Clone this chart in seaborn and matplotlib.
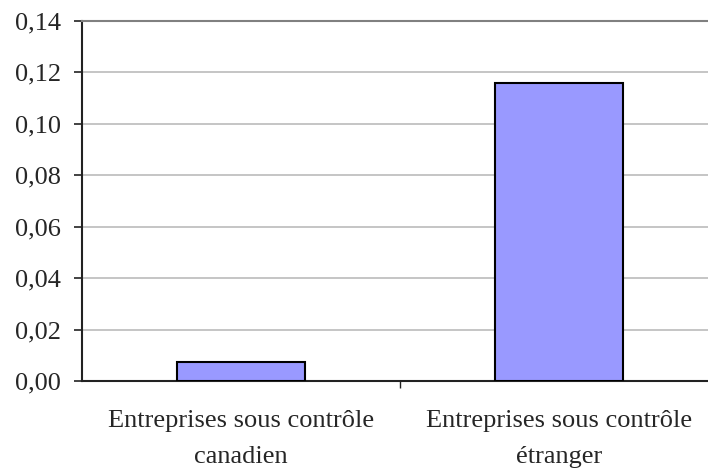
import seaborn as sns
import matplotlib.pyplot as plt
import pandas as pd
from matplotlib.ticker import FuncFormatter, FixedLocator

# Data
categories = ['Entreprises sous contrôle\ncanadien', 'Entreprises sous contrôle\nétranger']
values = [0.0074, 0.116]
y_ticks = [0.00, 0.02, 0.04, 0.06, 0.08, 0.10, 0.12, 0.14]

df = pd.DataFrame({'Groupe': categories, 'Valeur': values})

sns.set_style('white')
plt.rcParams['font.family'] = ['Liberation Serif', 'DejaVu Serif']

fig = plt.figure(figsize=(7.08, 4.72), dpi=100)
# axes run slightly past the right edge, as in the reference
ax = fig.add_axes([82 / 708, 1 - 381 / 472, 636 / 708, 360 / 472])

sns.barplot(x='Groupe', y='Valeur', data=df, color='#9999FF', saturation=1,
            width=0.4, edgecolor='black', linewidth=1.5, ax=ax, zorder=3)

ax.set_ylim(0, 0.14)
ax.set_xlim(-0.5, 1.5)
ax.set_yticks(y_ticks)
ax.yaxis.set_major_formatter(FuncFormatter(lambda v, p: f'{v:.2f}'.replace('.', ',')))

# light grey gridlines
for t in y_ticks[1:-1]:
    ax.axhline(t, color='#c0c0c0', linewidth=1.3, zorder=1)

ax.spines['top'].set_color('#808080')
ax.spines['top'].set_linewidth(1.5)
ax.spines['left'].set_color('#222222')
ax.spines['left'].set_linewidth(1.5)
ax.spines['bottom'].set_color('#222222')
ax.spines['bottom'].set_linewidth(1.5)
ax.spines['right'].set_visible(False)

ax.tick_params(axis='y', direction='out', length=6, width=1.2, color='#222222',
               left=True, labelsize=19, pad=9)
ax.set_xticks([0, 1])
ax.set_xticklabels(categories, linespacing=1.8)
ax.tick_params(axis='x', which='major', length=0, labelsize=19, pad=21)
ax.xaxis.set_minor_locator(FixedLocator([0.5]))
ax.tick_params(axis='x', which='minor', direction='out', length=5, width=1, color='#222222', bottom=True)

ax.set_xlabel('')
ax.set_ylabel('')

plt.savefig('out.png', dpi=100)
